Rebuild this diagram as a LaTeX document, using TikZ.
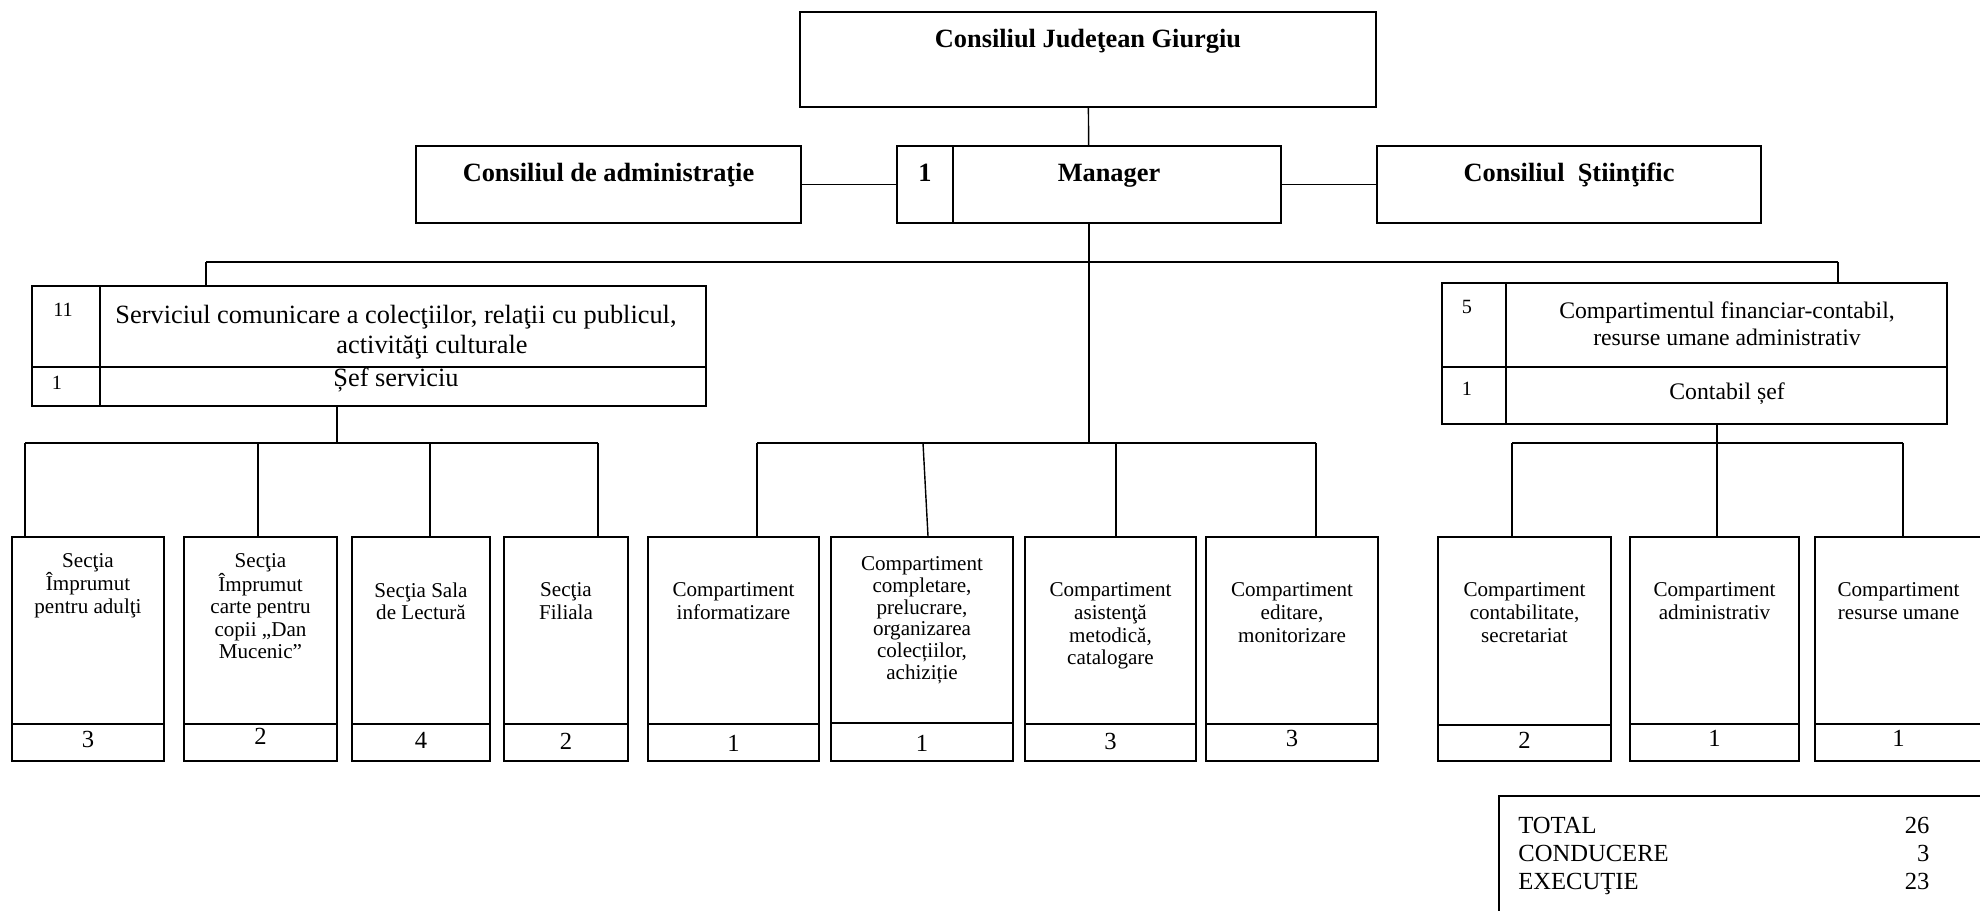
\documentclass[tikz,border=0pt]{standalone}
\usepackage{fontspec}
\setmainfont{Liberation Serif}
\usetikzlibrary{positioning}
\tikzset{
  frame/.style={draw, line width=1pt, inner sep=0pt},
  topbox/.style={frame, font=\fontsize{15}{18}\selectfont\bfseries, text height=7.2mm},
  unitbox/.style={frame, minimum height=44.8mm},
  split/.style={line width=1pt},
  link/.style={line width=0.8pt},
  boldtxt/.style={inner sep=0pt, font=\fontsize{15}{18}\selectfont\bfseries},
  svctxt/.style={inner sep=0pt, align=center, font=\fontsize{15}{17}\selectfont},
  fintxt/.style={inner sep=0pt, align=center, font=\fontsize{13.5}{15.3}\selectfont},
  unittxt/.style={inner sep=0pt, align=center, font=\fontsize{12}{13}\selectfont},
  unitnum/.style={inner sep=0pt, font=\fontsize{14}{16}\selectfont},
  smallnum/.style={inner sep=0pt, font=\fontsize{11.5}{13}\selectfont},
  totfont/.style={inner sep=0pt, font=\fontsize{14}{15.8}\selectfont}
}
\begin{document}
\begin{tikzpicture}[x=0.2mm,y=-0.2mm]
\useasboundingbox (0,0) rectangle (1980,911);

\node[topbox, minimum width=115.2mm, text depth=11.8mm] (jud) at (1088,59.5) {Consiliul Judeţean Giurgiu};
\node[topbox, minimum width=77mm, text depth=8.2mm] (admin) at (608.5,184.5) {Consiliul de administraţie};
\node[frame, minimum width=76.8mm, minimum height=15.4mm] (mgr) at (1089,184.5) {};
\draw[split] ([xshift=11.4mm]mgr.north west) -- ([xshift=11.4mm]mgr.south west);
\node[boldtxt, anchor=base] (mgrnr) at (925,182) {1};
\node[boldtxt, anchor=base] (mgrtxt) at (1109,182) {Manager};
\node[topbox, minimum width=76.8mm, text depth=8.2mm] (stiin) at (1569,184.5) {Consiliul\ \ Ştiinţific};

\node[frame, minimum width=134.8mm, minimum height=24mm] (svc) at (369,346) {};
\draw[split] ([xshift=13.8mm]svc.north west) -- ([xshift=13.8mm]svc.south west);
\draw[split] ([yshift=8mm]svc.south west) -- ([yshift=8mm]svc.south east);
\node[smallnum] (svcnr) at (63,310) {11};
\node[svctxt, anchor=north] (svcname) at (396,305) {Serviciul comunicare a colecţiilor, relaţii cu publicul,\\\hspace*{14.4mm}activităţi culturale};
\node[smallnum] (sefnr) at (57,383) {1};
\node[svctxt, anchor=base] (sef) at (396,387) {Șef serviciu};

\node[frame, minimum width=101mm, minimum height=28.2mm] (fin) at (1694.5,353.5) {};
\draw[split] ([xshift=13mm]fin.north west) -- ([xshift=13mm]fin.south west);
\draw[split] ([yshift=11.6mm]fin.south west) -- ([yshift=11.6mm]fin.south east);
\node[smallnum] (finnr) at (1467,307) {5};
\node[fintxt, anchor=north] (finname) at (1727,301.5) {Compartimentul financiar-contabil,\\resurse umane administrativ};
\node[smallnum] (cfnr) at (1467,389) {1};
\node[fintxt, anchor=base] (cf) at (1727,400) {Contabil șef};

\node[unitbox, minimum width=30.4mm] (sec1) at (88,649) {};
\draw[split] ([yshift=7.6mm]sec1.south west) -- ([yshift=7.6mm]sec1.south east);
\node[unittxt, below=3.4mm of sec1.north] (sec1txt) {Secţia\\Împrumut\\pentru adulţi};
\node[unitnum] (sec1nr) at ([yshift=4.4mm]sec1.south) {3};

\node[unitbox, minimum width=30.6mm] (sec2) at (260.5,649) {};
\draw[split] ([yshift=7.6mm]sec2.south west) -- ([yshift=7.6mm]sec2.south east);
\node[unittxt, below=3.4mm of sec2.north, font=\fontsize{12}{12.6}\selectfont] (sec2txt) {Secţia\\Împrumut\\carte pentru\\copii „Dan\\Mucenic”};
\node[unitnum] (sec2nr) at ([yshift=5.1mm]sec2.south) {2};

\node[unitbox, minimum width=27.6mm] (sec3) at (421,649) {};
\draw[split] ([yshift=7.6mm]sec3.south west) -- ([yshift=7.6mm]sec3.south east);
\node[unittxt, below=9.2mm of sec3.north] (sec3txt) {Secţia Sala\\de Lectură};
\node[unitnum] (sec3nr) at ([yshift=4.2mm]sec3.south) {4};

\node[unitbox, minimum width=24.8mm] (sec4) at (566,649) {};
\draw[split] ([yshift=7.6mm]sec4.south west) -- ([yshift=7.6mm]sec4.south east);
\node[unittxt, below=9.2mm of sec4.north] (sec4txt) {Secţia\\Filiala};
\node[unitnum] (sec4nr) at ([yshift=4.2mm]sec4.south) {2};

\node[unitbox, minimum width=34.2mm] (cp1) at (733.5,649) {};
\draw[split] ([yshift=7.6mm]cp1.south west) -- ([yshift=7.6mm]cp1.south east);
\node[unittxt, below=9.2mm of cp1.north] (cp1txt) {Compartiment\\informatizare};
\node[unitnum] (cp1nr) at ([yshift=3.7mm]cp1.south) {1};

\node[unitbox, minimum width=36.4mm] (cp2) at (922,649) {};
\draw[split] ([yshift=7.8mm]cp2.south west) -- ([yshift=7.8mm]cp2.south east);
\node[unittxt, below=4mm of cp2.north, font=\fontsize{12}{12.4}\selectfont] (cp2txt) {Compartiment\\completare,\\prelucrare,\\organizarea\\colecțiilor,\\achiziție};
\node[unitnum] (cp2nr) at ([yshift=3.7mm]cp2.south) {1};

\node[unitbox, minimum width=34.2mm] (cp3) at (1110.5,649) {};
\draw[split] ([yshift=7.6mm]cp3.south west) -- ([yshift=7.6mm]cp3.south east);
\node[unittxt, below=9.2mm of cp3.north] (cp3txt) {Compartiment\\asistenţă\\metodică,\\catalogare};
\node[unitnum] (cp3nr) at ([yshift=4.1mm]cp3.south) {3};

\node[unitbox, minimum width=34.4mm] (cp4) at (1292,649) {};
\draw[split] ([yshift=7.6mm]cp4.south west) -- ([yshift=7.6mm]cp4.south east);
\node[unittxt, below=9.2mm of cp4.north] (cp4txt) {Compartiment\\editare,\\monitorizare};
\node[unitnum] (cp4nr) at ([yshift=4.6mm]cp4.south) {3};

\node[unitbox, minimum width=34.6mm] (fc1) at (1524.5,649) {};
\draw[split] ([yshift=7.4mm]fc1.south west) -- ([yshift=7.4mm]fc1.south east);
\node[unittxt, below=9.2mm of fc1.north] (fc1txt) {Compartiment\\contabilitate,\\secretariat};
\node[unitnum] (fc1nr) at ([yshift=4.3mm]fc1.south) {2};

\node[unitbox, minimum width=33.8mm] (fc2) at (1714.5,649) {};
\draw[split] ([yshift=7.6mm]fc2.south west) -- ([yshift=7.6mm]fc2.south east);
\node[unittxt, below=9.2mm of fc2.north] (fc2txt) {Compartiment\\administrativ};
\node[unitnum] (fc2nr) at ([yshift=4.8mm]fc2.south) {1};

\node[unitbox, minimum width=33.4mm] (fc3) at (1898.5,649) {};
\draw[split] ([yshift=7.6mm]fc3.south west) -- ([yshift=7.6mm]fc3.south east);
\node[unittxt, below=9.2mm of fc3.north] (fc3txt) {Compartiment\\resurse umane};
\node[unitnum] (fc3nr) at ([yshift=4.8mm]fc3.south) {1};

\node[frame, minimum width=98mm, minimum height=24mm, anchor=north west] (tot) at (1498,795) {};
\node[totfont, text width=82.2mm, align=left, anchor=north west] (totals) at (1518,817) {TOTAL\hfill 26\\CONDUCERE\hfill 3\\EXECUŢIE\hfill 23};

\coordinate (busw) at (206,262);
\coordinate (buse) at (1838,262);
\coordinate (lb0) at (337,443);
\coordinate (lb1) at (25,443);
\coordinate (lb2) at (258,443);
\coordinate (lb3) at (430,443);
\coordinate (lb4) at (598,443);
\coordinate (mb1) at (757,443);
\coordinate (mb2) at (923,443);
\coordinate (mb3) at (1116,443);
\coordinate (mb4) at (1316,443);
\coordinate (rb1) at (1512,443);
\coordinate (rb2) at (1717,443);
\coordinate (rb3) at (1903,443);

\draw[link] (jud) -- (mgr);
\draw[link] (admin) -- (mgr);
\draw[link] (mgr) -- (stiin);
\draw[link] (busw) -- (buse);
\draw[link] (busw) -- (busw |- svc.north);
\draw[link] (buse) -- (buse |- fin.north);
\draw[link] (mgr.south) -- (mgr.south |- mb1);

\draw[link] (svc.south -| lb0) -- (lb0);
\draw[link] (lb1) -- (lb4);
\draw[link] (lb1) -- (lb1 |- sec1.north);
\draw[link] (lb2) -- (lb2 |- sec2.north);
\draw[link] (lb3) -- (lb3 |- sec3.north);
\draw[link] (lb4) -- (lb4 |- sec4.north);

\draw[link] (mb1) -- (mb4);
\draw[link] (mb1) -- (mb1 |- cp1.north);
\draw[link] (mb2) -- ([xshift=1mm]mb2 |- cp2.north);
\draw[link] (mb3) -- (mb3 |- cp3.north);
\draw[link] (mb4) -- (mb4 |- cp4.north);

\draw[link] (fin.south -| rb2) -- (rb2);
\draw[link] (rb1) -- (rb3);
\draw[link] (rb1) -- (rb1 |- fc1.north);
\draw[link] (rb2) -- (rb2 |- fc2.north);
\draw[link] (rb3) -- (rb3 |- fc3.north);

\end{tikzpicture}
\end{document}
